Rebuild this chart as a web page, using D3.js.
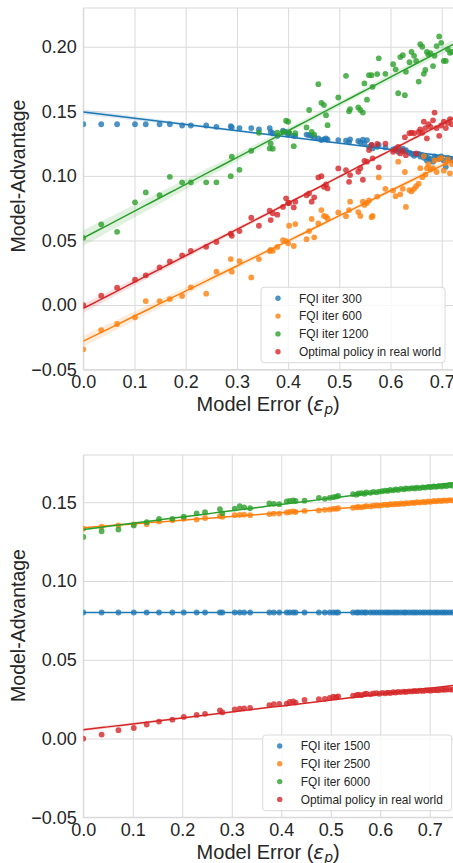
<!DOCTYPE html>
<html>
<head>
<meta charset="utf-8">
<script src="https://cdn.jsdelivr.net/npm/d3@7"></script>
<style>
  body { margin: 0; background: #fff; }
  svg { display: block; font-family: "Liberation Sans", Arial, sans-serif; }
</style>
</head>
<body>
<div id="chart"></div>
<script>
// ---- top panel data (model error vs model-advantage) ----
const topX = [0, 0.035, 0.066, 0.101, 0.122, 0.149, 0.169, 0.193, 0.21, 0.24,
  0.26, 0.288, 0.29, 0.305, 0.328, 0.343, 0.364, 0.366, 0.37, 0.379,
  0.39, 0.396, 0.4, 0.402, 0.411, 0.414, 0.436, 0.441, 0.446, 0.451,
  0.459, 0.465, 0.47, 0.474, 0.477, 0.498, 0.513, 0.519, 0.521, 0.537,
  0.541, 0.546, 0.549, 0.554, 0.558, 0.563, 0.565, 0.574, 0.577, 0.59,
  0.605, 0.61, 0.615, 0.619, 0.624, 0.628, 0.63, 0.637, 0.641, 0.646,
  0.65, 0.655, 0.658, 0.662, 0.665, 0.668, 0.671, 0.674, 0.678, 0.683,
  0.686, 0.69, 0.695, 0.699, 0.704, 0.708, 0.712, 0.716, 0.72];

const fqi300 = [0.140, 0.140, 0.140, 0.140, 0.140, 0.140, 0.140, 0.139, 0.139, 0.139,
  0.138, 0.1385, 0.1375, 0.137, 0.137, 0.136, 0.137, 0.134, 0.133, 0.131,
  0.135, 0.134, 0.132, 0.133, 0.131, 0.131, 0.132, 0.1315, 0.131, 0.1298,
  0.129, 0.1277, 0.1283, 0.129, 0.128, 0.1277, 0.1272, 0.126, 0.1283, 0.127,
  0.126, 0.128, 0.125, 0.1277, 0.1225, 0.1238, 0.1213, 0.1225, 0.124, 0.122,
  0.1205, 0.1213, 0.1187, 0.12, 0.121, 0.119, 0.12, 0.118, 0.117, 0.1155,
  0.1165, 0.117, 0.115, 0.116, 0.114, 0.115, 0.112, 0.114, 0.113, 0.111,
  0.115, 0.114, 0.113, 0.115, 0.112, 0.107, 0.114, 0.113, 0.112];

const fqi600 = [-0.0343, -0.0194, -0.0147, -0.0095, 0.0031, 0.0031, 0.0046, 0.007, 0.0137, 0.0088,
  0.0258, 0.0356, 0.0258, 0.034, 0.0214, 0.0356, 0.0418, 0.0426, 0.042, 0.045,
  0.0503, 0.0495, 0.0478, 0.0614, 0.0457, 0.0627, 0.051, 0.0573, 0.0666, 0.0524,
  0.0632, 0.0735, 0.069, 0.0684, 0.067, 0.0717, 0.0688, 0.0735, 0.080, 0.072,
  0.069, 0.080, 0.0775, 0.079, 0.081, 0.068, 0.069, 0.084, 0.0988, 0.090,
  0.0886, 0.0843, 0.111, 0.0857, 0.090, 0.103, 0.076, 0.089, 0.088, 0.090,
  0.092, 0.094, 0.106, 0.099, 0.1153, 0.101, 0.106, 0.109, 0.105, 0.106,
  0.112, 0.103, 0.113, 0.114, 0.104, 0.110, 0.113, 0.102, 0.109];

const fqi1200 = [0.052, 0.0625, 0.0567, 0.0795, 0.0872, 0.085, 0.0993, 0.095, 0.095, 0.095,
  0.095, 0.0998, 0.1148, 0.1047, 0.1194, 0.1334, 0.1213, 0.125, 0.121, 0.1335,
  0.134, 0.1427, 0.1419, 0.1335, 0.123, 0.133, 0.1375, 0.151, 0.134, 0.132,
  0.171, 0.1566, 0.1548, 0.147, 0.1393, 0.1607, 0.1775, 0.150, 0.1517, 0.153,
  0.151, 0.149, 0.1716, 0.159, 0.178, 0.178, 0.169, 0.1788, 0.191, 0.179,
  0.1865, 0.1825, 0.164, 0.192, 0.1935, 0.1625, 0.1806, 0.188, 0.196, 0.193,
  0.189, 0.173, 0.202, 0.200, 0.179, 0.182, 0.196, 0.194, 0.195, 0.185,
  0.193, 0.2005, 0.208, 0.203, 0.189, 0.189, 0.198, 0.1953, 0.196];

const optimalTop = [0.0, 0.0072, 0.0134, 0.0196, 0.023, 0.0292, 0.0338, 0.0385, 0.042, 0.0451,
  0.0488, 0.0552, 0.0536, 0.0573, 0.0676, 0.0614, 0.073, 0.0658, 0.071, 0.070,
  0.076, 0.0826, 0.079, 0.079, 0.0756, 0.080, 0.085, 0.0865, 0.080, 0.0834,
  0.0988, 0.0998, 0.0916, 0.0934, 0.0903, 0.1058, 0.1045, 0.0954, 0.1006, 0.1032,
  0.106, 0.097, 0.1117, 0.111, 0.12, 0.124, 0.1136, 0.1247, 0.1066, 0.125,
  0.1187, 0.12, 0.1225, 0.1174, 0.1194, 0.130, 0.116, 0.133, 0.1334, 0.133,
  0.1174, 0.134, 0.136, 0.1334, 0.142, 0.137, 0.129, 0.140, 0.138, 0.143,
  0.149, 0.137, 0.131, 0.139, 0.142, 0.137, 0.141, 0.144, 0.140];

// ---- bottom panel data ----
const bottomX = [0, 0.037, 0.071, 0.102, 0.128, 0.153, 0.18, 0.203, 0.229, 0.246,
  0.276, 0.281, 0.306, 0.316, 0.325, 0.337, 0.376, 0.385, 0.396, 0.411,
  0.417, 0.424, 0.429, 0.447, 0.476, 0.488, 0.498, 0.505, 0.511, 0.515,
  0.545, 0.552, 0.556, 0.562, 0.568, 0.572, 0.58, 0.586, 0.592, 0.598,
  0.604, 0.61, 0.615, 0.62, 0.626, 0.631, 0.636, 0.642, 0.648, 0.652,
  0.658, 0.664, 0.669, 0.674, 0.68, 0.686, 0.691, 0.697, 0.702, 0.708,
  0.713, 0.718, 0.724, 0.729, 0.734, 0.74, 0.746];

const fqi1500 = [0.080, 0.080, 0.080, 0.080, 0.080, 0.080, 0.080, 0.080, 0.080, 0.080,
  0.080, 0.080, 0.080, 0.080, 0.080, 0.080, 0.080, 0.080, 0.080, 0.080,
  0.080, 0.080, 0.080, 0.080, 0.080, 0.080, 0.080, 0.080, 0.080, 0.080,
  0.080, 0.080, 0.080, 0.080, 0.080, 0.080, 0.080, 0.080, 0.080, 0.080,
  0.080, 0.080, 0.080, 0.080, 0.080, 0.080, 0.080, 0.080, 0.080, 0.080,
  0.080, 0.080, 0.080, 0.080, 0.080, 0.080, 0.080, 0.080, 0.080, 0.080,
  0.080, 0.080, 0.080, 0.080, 0.080, 0.080, 0.080];

const fqi2500 = [0.1332, 0.1345, 0.1353, 0.136, 0.136, 0.1378, 0.1385, 0.1395, 0.139, 0.14,
  0.1412, 0.1408, 0.1418, 0.142, 0.1421, 0.1418, 0.1425, 0.1428, 0.1428, 0.1435,
  0.1438, 0.1442, 0.1438, 0.1445, 0.1448, 0.1452, 0.1454, 0.1458, 0.1458, 0.1462,
  0.1465, 0.1468, 0.147, 0.1468, 0.1472, 0.1475, 0.1473, 0.1478, 0.148, 0.1478,
  0.1482, 0.1485, 0.1483, 0.1488, 0.1486, 0.149, 0.1488, 0.1492, 0.149, 0.1495,
  0.1493, 0.1498, 0.1496, 0.15, 0.1498, 0.1502, 0.15, 0.1505, 0.1503, 0.1508,
  0.1506, 0.151, 0.1508, 0.1512, 0.151, 0.1514, 0.1512];

const fqi6000 = [0.128, 0.1316, 0.1327, 0.1353, 0.1373, 0.1395, 0.1395, 0.1408, 0.143, 0.1437,
  0.1457, 0.143, 0.146, 0.1475, 0.1468, 0.1462, 0.1492, 0.149, 0.1488, 0.1505,
  0.1508, 0.1512, 0.1508, 0.151, 0.1528, 0.1522, 0.1528, 0.1532, 0.1536, 0.154,
  0.1552, 0.1548, 0.1556, 0.1558, 0.1554, 0.1562, 0.156, 0.1566, 0.1563, 0.1568,
  0.157, 0.1574, 0.1572, 0.1578, 0.1576, 0.1582, 0.1578, 0.1585, 0.1582, 0.1588,
  0.1586, 0.159, 0.1588, 0.1592, 0.159, 0.1595, 0.1593, 0.1598, 0.1596, 0.16,
  0.1598, 0.1602, 0.16, 0.1605, 0.1603, 0.1608, 0.1605];

const optimalBottom = [0.0, 0.0025, 0.0053, 0.0067, 0.0089, 0.0108, 0.012, 0.0137, 0.015, 0.0157,
  0.0179, 0.0166, 0.0185, 0.019, 0.0192, 0.0195, 0.0212, 0.0218, 0.022, 0.0222,
  0.0232, 0.0235, 0.0228, 0.0245, 0.025, 0.0252, 0.0258, 0.0266, 0.0262, 0.0268,
  0.0272, 0.0276, 0.0278, 0.0275, 0.0282, 0.0285, 0.0281, 0.0286, 0.0288, 0.0284,
  0.029, 0.0287, 0.0292, 0.0289, 0.0294, 0.0292, 0.0296, 0.0295, 0.0298, 0.0296,
  0.03, 0.0299, 0.0302, 0.0301, 0.0304, 0.0302, 0.0305, 0.0306, 0.0304, 0.0307,
  0.0308, 0.0306, 0.031, 0.0309, 0.0311, 0.0312, 0.031];

const topLabels = ["FQI iter 300", "FQI iter 600", "FQI iter 1200", "Optimal policy in real world"];
const bottomLabels = ["FQI iter 1500", "FQI iter 2500", "FQI iter 6000", "Optimal policy in real world"];
const xTicks = [0, 0.1, 0.2, 0.3, 0.4, 0.5, 0.6, 0.7];
const yTicks = [-0.05, 0, 0.05, 0.1, 0.15, 0.2];
const colors = ["#1f77b4", "#ff7f0e", "#2ca02c", "#d62728"];

const width = 453;
const height = 863;
const textColor = "#262626";
const gridColor = "#dadada";

const svg = d3.select("#chart")
  .append("svg")
  .attr("width", width)
  .attr("height", height);

// ordinary least squares with a 95% band for the mean
function fitLine(xs, ys) {
  const n = xs.length;
  const mx = d3.mean(xs), my = d3.mean(ys);
  let sxx = 0, sxy = 0;
  xs.forEach((x, i) => { sxx += (x - mx) ** 2; sxy += (x - mx) * (ys[i] - my); });
  const b = sxy / sxx;
  const a = my - b * mx;
  let sse = 0;
  xs.forEach((x, i) => { sse += (ys[i] - a - b * x) ** 2; });
  const s = Math.sqrt(sse / (n - 2));
  return x => {
    const y = a + b * x;
    const se = s * Math.sqrt(1 / n + (x - mx) ** 2 / sxx);
    return { y, lo: y - 1.98 * se, hi: y + 1.98 * se };
  };
}

function drawPanel(cfg) {
  const { left, right, top, bottom, xMax, yMin, yMax, xs, series, labels, id, yTickVals, legend, yLabelY, xTitleY } = cfg;
  const x = d3.scaleLinear().domain([0, xMax]).range([left, right]);
  const y = d3.scaleLinear().domain([yMin, yMax]).range([bottom, top]);

  const g = svg.append("g");

  g.append("clipPath").attr("id", id)
    .append("rect")
    .attr("x", left).attr("y", top)
    .attr("width", right - left).attr("height", bottom - top);

  // grid + tick labels
  const xAxis = g.append("g")
    .attr("transform", `translate(0,${bottom})`)
    .call(d3.axisBottom(x).tickValues(xTicks).tickSize(-(bottom - top)).tickPadding(5.5)
      .tickFormat(d3.format(".1f")));
  const yAxis = g.append("g")
    .attr("transform", `translate(${left},0)`)
    .call(d3.axisLeft(y).tickValues(yTickVals).tickSize(-(right - left)).tickPadding(6.5)
      .tickFormat(d => d3.format(".2f")(d).replace("-", "\u2212")));

  [xAxis, yAxis].forEach(ax => {
    ax.select(".domain").remove();
    ax.selectAll("line").attr("stroke", gridColor).attr("stroke-width", 1);
    ax.selectAll("text").attr("fill", textColor).attr("font-size", 18);
  });

  // frame
  g.append("path")
    .attr("d", `M${left},${top}H${right + 5}M${left},${top}V${bottom}H${right + 5}`)
    .attr("fill", "none").attr("stroke", gridColor).attr("stroke-width", 1.2);

  const plot = g.append("g").attr("clip-path", `url(#${id})`);
  const grid = d3.range(0, xMax + 0.0001, xMax / 60);

  series.forEach((ys, k) => {
    const fit = fitLine(xs, ys);
    const pts = grid.map(v => ({ x: v, ...fit(v) }));

    plot.append("path")
      .datum(pts)
      .attr("d", d3.area().x(d => x(d.x)).y0(d => y(d.lo)).y1(d => y(d.hi)))
      .attr("fill", colors[k]).attr("fill-opacity", 0.15);

    plot.append("g")
      .selectAll("circle")
      .data(xs.map((v, i) => [v, ys[i]]))
      .join("circle")
      .attr("cx", d => x(d[0]))
      .attr("cy", d => y(d[1]))
      .attr("r", 2.9)
      .attr("fill", colors[k])
      .attr("fill-opacity", 0.8);

    plot.append("path")
      .datum(pts)
      .attr("d", d3.line().x(d => x(d.x)).y(d => y(d.y)))
      .attr("fill", "none")
      .attr("stroke", colors[k])
      .attr("stroke-width", 1.5);
  });

  // axis titles
  g.append("text")
    .attr("transform", `translate(25,${yLabelY}) rotate(-90)`)
    .attr("text-anchor", "middle")
    .attr("fill", textColor)
    .attr("font-size", 19.5)
    .text("Model-Advantage");

  const xt = g.append("text")
    .attr("x", (left + right) / 2)
    .attr("y", xTitleY)
    .attr("text-anchor", "middle")
    .attr("fill", textColor)
    .attr("font-size", 20);
  xt.append("tspan").text("Model Error (");
  xt.append("tspan").attr("font-family", "DejaVu Sans").attr("font-style", "italic").text("\u03b5");
  xt.append("tspan").attr("font-family", "DejaVu Sans").attr("font-style", "italic")
    .attr("font-size", 14).attr("dy", 3).text("p");
  xt.append("tspan").attr("dy", -3).text(")");

  // legend
  const lg = g.append("g");
  lg.append("rect")
    .attr("x", legend.x).attr("y", legend.y)
    .attr("width", legend.w).attr("height", legend.h)
    .attr("rx", 3)
    .attr("fill", "#fff").attr("fill-opacity", 0.8)
    .attr("stroke", "#d0d0d0").attr("stroke-width", 0.8);
  labels.forEach((lab, k) => {
    const cy = legend.y + 11 + k * 17.8;
    lg.append("circle")
      .attr("cx", legend.x + 17).attr("cy", cy).attr("r", 2.7)
      .attr("fill", colors[k]).attr("fill-opacity", 0.8);
    lg.append("text")
      .attr("x", legend.x + 38).attr("y", cy + 4.2)
      .attr("fill", textColor).attr("font-size", 11.9)
      .text(lab);
  });
}

drawPanel({
  id: "clipTop", left: 83.3, right: 453, top: 8, bottom: 369.6,
  xMax: 0.722, yMin: -0.05, yMax: 0.23, xs: topX,
  series: [fqi300, fqi600, fqi1200, optimalTop], labels: topLabels,
  yTickVals: yTicks,
  legend: { x: 261, y: 287.3, w: 184, h: 75.4 },
  yLabelY: 176, xTitleY: 411
});

drawPanel({
  id: "clipBottom", left: 83.3, right: 453, top: 455, bottom: 817.3,
  xMax: 0.747, yMin: -0.05, yMax: 0.18, xs: bottomX,
  series: [fqi1500, fqi2500, fqi6000, optimalBottom], labels: bottomLabels,
  yTickVals: yTicks.slice(0, 5),
  legend: { x: 262.7, y: 735, w: 189, h: 75.7 },
  yLabelY: 625.5, xTitleY: 859
});
</script>
</body>
</html>
